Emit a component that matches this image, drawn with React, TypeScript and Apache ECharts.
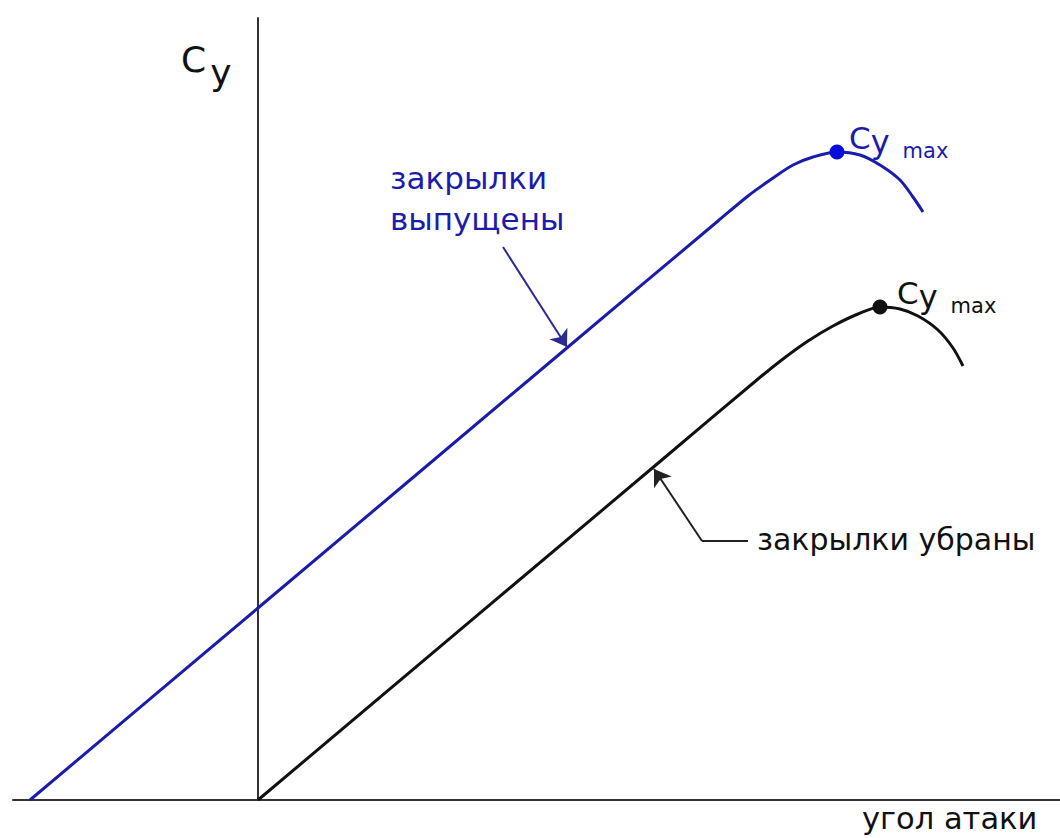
import React, { useEffect, useRef } from "react";
import * as echarts from "echarts";

// x: angle of attack (relative units), y: lift coefficient Cy (relative units)
const flapsDownX = [-228, 0, 310, 460, 490, 515, 535, 555, 579, 602, 622, 642, 655, 665];
const flapsDownY = [0, 192, 453, 579, 604, 622, 635, 643, 648, 645, 635, 620, 603, 588];
const flapsUpX = [0, 405, 500, 525, 550, 575, 600, 622, 642, 660, 680, 695, 705];
const flapsUpY = [0, 341, 421, 441, 459, 474, 486, 493, 491, 484, 470, 452, 434];
const maxDown = [579, 648];
const maxUp = [622, 493];
const arrowDown = [[245, 553], [309, 453]];
const arrowUpTail = [[490, 259], [444, 259]];
const arrowUpHead = [[444, 259], [396, 331]];

const xMin = -245;
const xMax = 802;
const yMin = 0;
const yMax = 782;

const FONT = "'DejaVu Sans', Verdana, sans-serif";
const BLUE = "#1c1cab";
const BLUE_DOT = "#0b0bdc";
const BLACK = "#111111";

export default function App() {
  const ref = useRef<HTMLDivElement>(null);
  useEffect(() => {
    if (!ref.current) return;
    const chart = echarts.init(ref.current, undefined, { renderer: "svg" });
    const zip = (xs: number[], ys: number[]) => xs.map((x, i) => [x, ys[i]]);
    const cyMaxLabel = (x: number, y: number, color: string) => ({
      type: "text",
      x,
      y,
      style: {
        text: "{c|C}{y|y}{m|max}",
        fontFamily: FONT,
        verticalAlign: "middle",
        rich: {
          c: { fontSize: 31, fill: color, fontFamily: FONT, verticalAlign: "middle" },
          y: { fontSize: 32, fill: color, fontFamily: FONT, verticalAlign: "middle", padding: [7, 0, 0, 0] },
          m: { fontSize: 21, fill: color, fontFamily: FONT, verticalAlign: "middle", padding: [26, 0, 0, 13] },
        },
      },
    });
    chart.setOption({
      animation: false,
      backgroundColor: "#ffffff",
      grid: { left: 13, right: 0, top: 18, bottom: 38, containLabel: false },
      xAxis: {
        type: "value",
        min: xMin,
        max: xMax,
        axisLine: { show: true, onZero: true, lineStyle: { color: "#333333", width: 2 } },
        axisTick: { show: false },
        axisLabel: { show: false },
        splitLine: { show: false },
      },
      yAxis: {
        type: "value",
        min: yMin,
        max: yMax,
        axisLine: { show: true, onZero: true, lineStyle: { color: "#333333", width: 2 } },
        axisTick: { show: false },
        axisLabel: { show: false },
        splitLine: { show: false },
      },
      series: [
        {
          name: "закрылки выпущены",
          type: "line",
          data: zip(flapsDownX, flapsDownY),
          smooth: 0.3,
          showSymbol: false,
          lineStyle: { color: BLUE, width: 3 },
          z: 3,
        },
        {
          name: "закрылки убраны",
          type: "line",
          data: zip(flapsUpX, flapsUpY),
          smooth: 0.3,
          showSymbol: false,
          lineStyle: { color: BLACK, width: 3 },
          z: 3,
        },
        {
          type: "scatter",
          data: [
            { value: maxDown, itemStyle: { color: BLUE_DOT, opacity: 1 } },
            { value: maxUp, itemStyle: { color: BLACK, opacity: 1 } },
          ],
          symbolSize: 15,
          z: 4,
        },
        {
          type: "lines",
          coordinateSystem: "cartesian2d",
          symbol: ["none", "arrow"],
          symbolSize: [12, 16],
          data: [
            { coords: arrowDown, lineStyle: { color: "#2a2a90", width: 2, opacity: 1 } },
            { coords: arrowUpHead, lineStyle: { color: "#222222", width: 2, opacity: 1 } },
          ],
          z: 5,
        },
        {
          type: "lines",
          coordinateSystem: "cartesian2d",
          symbol: ["none", "none"],
          data: [{ coords: arrowUpTail, lineStyle: { color: "#222222", width: 2, opacity: 1 } }],
          z: 5,
        },
      ],
      graphic: [
        {
          type: "text",
          x: 181,
          y: 59,
          style: {
            text: "{c|C}{y|y}",
            fontFamily: FONT,
            verticalAlign: "middle",
            rich: {
              c: { fontSize: 36, fill: BLACK, fontFamily: FONT, verticalAlign: "middle" },
              y: { fontSize: 36, fill: BLACK, fontFamily: FONT, verticalAlign: "middle", padding: [26, 0, 0, 4] },
            },
          },
        },
        cyMaxLabel(849, 138, BLUE),
        cyMaxLabel(897, 293, BLACK),
        {
          type: "text",
          x: 390,
          y: 157,
          style: {
            text: "закрылки\nвыпущены",
            fontFamily: FONT,
            fontSize: 31,
            lineHeight: 41,
            fill: BLUE,
            verticalAlign: "top",
          },
        },
        {
          type: "text",
          x: 757,
          y: 524,
          style: {
            text: "закрылки убраны",
            fontFamily: FONT,
            fontSize: 30,
            fill: BLACK,
            verticalAlign: "top",
          },
        },
        {
          type: "text",
          x: 862,
          y: 803,
          style: {
            text: "угол атаки",
            fontFamily: FONT,
            fontSize: 30.5,
            fill: BLACK,
            verticalAlign: "top",
          },
        },
      ],
    });
    return () => chart.dispose();
  }, []);
  return (
    <div
      ref={ref}
      style={{ position: "absolute", left: 0, top: 0, width: 1060, height: 838 }}
    />
  );
}
